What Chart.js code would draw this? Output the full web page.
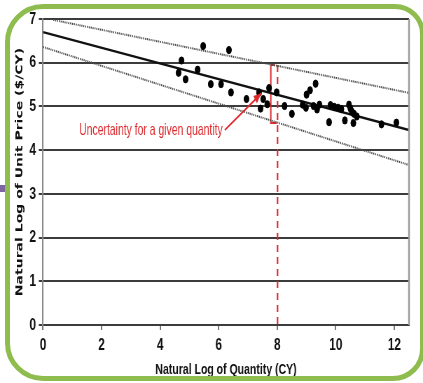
<!DOCTYPE html>
<html lang="en">
<head>
<meta charset="UTF-8">
<title>Unit price vs quantity</title>
<script src="https://cdn.jsdelivr.net/npm/chart.js"></script>
<style>
  body { margin: 0; background: #fff; }
  #wrap { position: relative; width: 423px; height: 383px; overflow: hidden; }
  #chart { position: absolute; left: 0; top: 0; }
  .tab { position: absolute; left: 0; top: 185px; width: 8px; height: 7px; background: #8064a2; }
  .frame {
    position: absolute; left: 5px; top: 4px; width: 420px; height: 377px;
    box-sizing: border-box; border: 5px solid #8fbc4f;
    border-radius: 38px 30px 32px 38px; pointer-events: none;
  }
</style>
</head>
<body>
<div id="wrap">
  <!-- canvas is drawn wider and squeezed to 423px, like the narrow original slide -->
  <canvas id="chart" width="604" height="383" style="width:423px;height:383px"></canvas>
  <div class="tab"></div>
  <div class="frame"></div>
</div>
<script>
// ln(quantity) and ln(unit price) of the projects
const qtyLog = [4.63, 4.73, 4.87, 5.28, 5.47, 5.73, 6.08, 6.35, 6.42, 6.95,
                7.38, 7.43, 7.52, 7.66, 7.72, 7.98, 8.25, 8.50, 8.87, 8.98,
                9.00, 9.12, 9.31, 9.24, 9.36, 9.44, 9.77, 9.82, 9.95, 10.08,
                10.19, 10.31, 10.45, 10.50, 10.55, 10.60, 10.62, 10.72, 11.56, 12.07];
const priceLog = [5.77, 6.05, 5.62, 5.84, 6.38, 5.51, 5.51, 6.29, 5.32, 5.17,
                  5.32, 4.95, 5.17, 5.05, 5.42, 5.32, 5.01, 4.83, 5.04, 4.97,
                  5.27, 5.37, 5.52, 5.01, 4.93, 5.04, 4.64, 5.03, 4.99, 4.97,
                  4.94, 4.68, 5.04, 4.95, 4.88, 4.62, 4.83, 4.77, 4.59, 4.63];

// regression line and the two prediction bounds
const fitX = [0, 12.5];
const fitY = [6.70, 4.46];
const upperX = [0.35, 12.5];
const upperY = [6.98, 5.31];
const lowerX = [0, 12.5];
const lowerY = [6.36, 3.66];

// red annotation at ln(Q) = 8
const bracketX = [7.92, 7.78, 7.78, 7.98];
const bracketY = [5.95, 5.95, 4.62, 4.62];
const guideX = [8.01, 8.01];
const guideY = [5.95, 0];
const arrowX = [6.21, 7.46];
const arrowY = [4.46, 5.30];
const noteText = 'Uncertainty for a given quantity';

const xTicks = [0, 2, 4, 6, 8, 10, 12];
const yTicks = [0, 1, 2, 3, 4, 5, 6, 7];
const xTitle = 'Natural Log of Quantity (CY)';
const yTitle = 'Natural Log of Unit Price ($/CY)';

const RED = '#dc2a2e';
const FONT = '"Liberation Sans", Arial, sans-serif';

function pts(xs, ys) {
  return xs.map((x, i) => ({ x: x, y: ys[i] }));
}

const extras = {
  id: 'extras',
  afterDatasetsDraw(chart) {
    const ctx = chart.ctx;
    const a = chart.chartArea;
    const xs = chart.scales.x, ys = chart.scales.y;
    ctx.save();
    // right frame of the plot
    ctx.strokeStyle = '#9a9a9a';
    ctx.lineWidth = 2.5;
    ctx.beginPath();
    ctx.moveTo(a.right, a.top);
    ctx.lineTo(a.right, a.bottom);
    ctx.stroke();

    // arrow
    const x0 = xs.getPixelForValue(arrowX[0]), y0 = ys.getPixelForValue(arrowY[0]);
    const x1 = xs.getPixelForValue(arrowX[1]), y1 = ys.getPixelForValue(arrowY[1]);
    ctx.strokeStyle = RED;
    ctx.fillStyle = RED;
    ctx.lineWidth = 2;
    ctx.beginPath();
    ctx.moveTo(x0, y0);
    ctx.lineTo(x1, y1);
    ctx.stroke();
    const ang = Math.atan2(y1 - y0, x1 - x0);
    const len = 11, half = 4.5;
    ctx.beginPath();
    ctx.moveTo(x1, y1);
    ctx.lineTo(x1 - len * Math.cos(ang) + half * Math.sin(ang), y1 - len * Math.sin(ang) - half * Math.cos(ang));
    ctx.lineTo(x1 - len * Math.cos(ang) - half * Math.sin(ang), y1 - len * Math.sin(ang) + half * Math.cos(ang));
    ctx.closePath();
    ctx.fill();

    // label, condensed a bit more so it fits left of the arrow like the original
    ctx.font = '17px ' + FONT;
    ctx.textAlign = 'right';
    ctx.textBaseline = 'middle';
    const w = ctx.measureText(noteText).width;
    const sx = Math.min(1, 205 / w);
    ctx.translate(x0 - 3, y0);
    ctx.scale(sx, 1);
    ctx.fillText(noteText, 0, 0);
    ctx.restore();
  }
};

new Chart(document.getElementById('chart'), {
  type: 'scatter',
  data: {
    datasets: [
      {
        data: pts(qtyLog, priceLog),
        backgroundColor: '#000', borderColor: '#000',
        pointRadius: 3.6, pointHoverRadius: 3.6
      },
      {
        data: pts(fitX, fitY), showLine: true,
        borderColor: '#111', borderWidth: 2.5, pointRadius: 0
      },
      {
        data: pts(upperX, upperY), showLine: true,
        borderColor: '#4a4a4a', borderWidth: 2, borderDash: [1.5, 1.2], pointRadius: 0
      },
      {
        data: pts(lowerX, lowerY), showLine: true,
        borderColor: '#4a4a4a', borderWidth: 2, borderDash: [1.5, 1.2], pointRadius: 0
      },
      {
        data: pts(bracketX, bracketY), showLine: true,
        borderColor: RED, borderWidth: 2, pointRadius: 0
      },
      {
        data: pts(guideX, guideY), showLine: true,
        borderColor: RED, borderWidth: 2.2, borderDash: [7, 5], pointRadius: 0
      }
    ]
  },
  options: {
    responsive: false,
    animation: false,
    devicePixelRatio: 1,
    layout: { padding: { top: 19, right: 20, left: 0, bottom: 0 } },
    plugins: { legend: { display: false }, tooltip: { enabled: false } },
    scales: {
      x: {
        type: 'linear', min: 0, max: 12.5,
        afterBuildTicks: s => { s.ticks = xTicks.map(v => ({ value: v })); },
        afterFit: s => { s.height = 58; },
        grid: { drawOnChartArea: false, drawTicks: true, tickLength: 5, color: '#777', lineWidth: 2 },
        border: { color: '#3c3c3c', width: 2 },
        ticks: {
          color: '#111', padding: 5, maxRotation: 0,
          font: { family: FONT, size: 17, weight: 'bold' }
        },
        title: {
          display: true, text: xTitle, color: '#111',
          padding: { top: 0, bottom: 4 },
          font: { family: FONT, size: 15, weight: 'bold' }
        }
      },
      y: {
        type: 'linear', min: 0, max: 7,
        afterBuildTicks: s => { s.ticks = yTicks.map(v => ({ value: v })); },
        afterFit: s => { s.width = 61.4; },
        grid: { color: '#3c3c3c', lineWidth: 2, drawTicks: true, tickLength: 6 },
        border: { color: '#8a8a8a', width: 2 },
        ticks: {
          color: '#111', padding: 4,
          font: { family: FONT, size: 17, weight: 'bold' }
        },
        title: {
          display: true, text: yTitle, color: '#111',
          padding: { top: 20, bottom: 0 },
          font: { family: '"DejaVu Sans", sans-serif', size: 14, weight: 'bold' }
        }
      }
    }
  },
  plugins: [extras]
});
</script>
</body>
</html>
